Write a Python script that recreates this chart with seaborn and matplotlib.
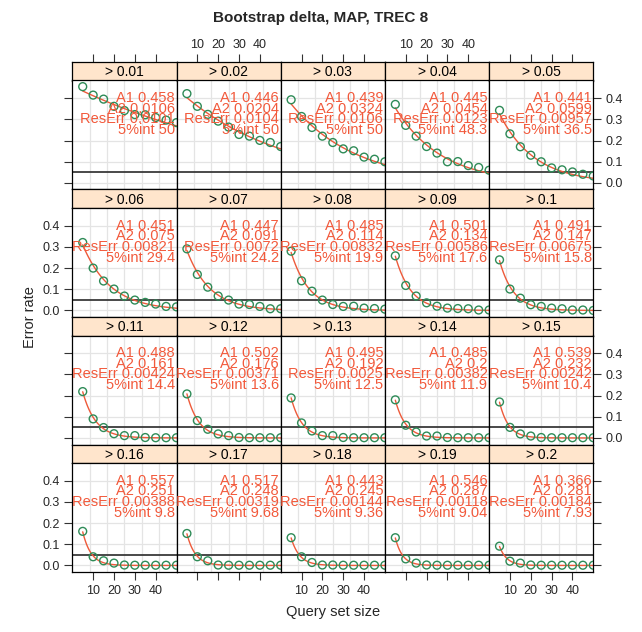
import numpy as np
import pandas as pd
import matplotlib
matplotlib.use("Agg")
import matplotlib.pyplot as plt
import seaborn as sns

sns.set_theme(style="white")
plt.rcParams['font.family'] = ['Liberation Sans', 'DejaVu Sans']

# ---------------- data ----------------
query_sizes = [5, 10, 15, 20, 25, 30, 35, 40, 45, 50]
thresholds = ["0.01", "0.02", "0.03", "0.04", "0.05",
              "0.06", "0.07", "0.08", "0.09", "0.1",
              "0.11", "0.12", "0.13", "0.14", "0.15",
              "0.16", "0.17", "0.18", "0.19", "0.2"]
a1_text = ["0.458", "0.446", "0.439", "0.445", "0.441",
           "0.451", "0.447", "0.485", "0.501", "0.491",
           "0.488", "0.502", "0.495", "0.485", "0.539",
           "0.557", "0.517", "0.443", "0.546", "0.366"]
a2_text = ["0.0106", "0.0204", "0.0324", "0.0454", "0.0599",
           "0.075", "0.091", "0.114", "0.134", "0.147",
           "0.161", "0.176", "0.192", "0.2", "0.232",
           "0.251", "0.248", "0.245", "0.287", "0.281"]
reserr_text = ["0.0101", "0.0104", "0.0106", "0.0123", "0.00957",
               "0.00821", "0.0072", "0.00832", "0.00586", "0.00675",
               "0.00424", "0.00371", "0.0025", "0.00382", "0.00242",
               "0.00388", "0.00319", "0.00144", "0.00118", "0.00184"]
int5_text = ["50", "50", "50", "48.3", "36.5",
             "29.4", "24.2", "19.9", "17.6", "15.8",
             "14.4", "13.6", "12.5", "11.9", "10.4",
             "9.8", "9.68", "9.36", "9.04", "7.93"]

err_001 = [0.455, 0.415, 0.396, 0.362, 0.342, 0.323, 0.322, 0.309, 0.297, 0.285]
err_002 = [0.422, 0.362, 0.324, 0.292, 0.264, 0.229, 0.221, 0.201, 0.191, 0.172]
err_003 = [0.393, 0.314, 0.262, 0.221, 0.191, 0.161, 0.152, 0.122, 0.112, 0.100]
err_004 = [0.371, 0.272, 0.221, 0.172, 0.141, 0.100, 0.101, 0.082, 0.073, 0.060]
err_005 = [0.343, 0.232, 0.171, 0.131, 0.100, 0.071, 0.062, 0.052, 0.041, 0.033]
err_006 = [0.321, 0.200, 0.139, 0.101, 0.068, 0.049, 0.038, 0.030, 0.019, 0.017]
err_007 = [0.291, 0.170, 0.110, 0.068, 0.049, 0.030, 0.028, 0.019, 0.008, 0.008]
err_008 = [0.280, 0.140, 0.091, 0.049, 0.028, 0.019, 0.020, 0.011, 0.009, 0.006]
err_009 = [0.258, 0.118, 0.068, 0.036, 0.020, 0.011, 0.009, 0.008, 0.002, 0.002]
err_010 = [0.239, 0.101, 0.058, 0.027, 0.019, 0.011, 0.008, 0.002, 0.002, 0.000]
err_011 = [0.219, 0.090, 0.049, 0.020, 0.011, 0.011, 0.002, 0.001, 0.001, 0.001]
err_012 = [0.208, 0.082, 0.041, 0.019, 0.011, 0.002, 0.001, 0.001, 0.001, 0.001]
err_013 = [0.189, 0.071, 0.033, 0.011, 0.011, 0.002, 0.001, 0.001, 0.001, 0.001]
err_014 = [0.180, 0.060, 0.028, 0.009, 0.009, 0.002, 0.001, 0.001, 0.001, 0.001]
err_015 = [0.170, 0.050, 0.019, 0.009, 0.002, 0.001, 0.001, 0.001, 0.001, 0.001]
err_016 = [0.161, 0.041, 0.022, 0.011, 0.002, 0.001, 0.001, 0.001, 0.001, 0.001]
err_017 = [0.151, 0.041, 0.022, 0.002, 0.001, 0.001, 0.001, 0.001, 0.001, 0.001]
err_018 = [0.131, 0.041, 0.014, 0.002, 0.002, 0.001, 0.001, 0.001, 0.001, 0.001]
err_019 = [0.131, 0.031, 0.011, 0.002, 0.001, 0.001, 0.001, 0.001, 0.001, 0.001]
err_020 = [0.091, 0.020, 0.011, 0.002, 0.001, 0.001, 0.001, 0.001, 0.001, 0.001]

error_rates = [err_001, err_002, err_003, err_004, err_005,
               err_006, err_007, err_008, err_009, err_010,
               err_011, err_012, err_013, err_014, err_015,
               err_016, err_017, err_018, err_019, err_020]

x_ticks = [10, 20, 30, 40]
y_ticks = [0.0, 0.1, 0.2, 0.3, 0.4]
y_tick_labels = ["0.0", "0.1", "0.2", "0.3", "0.4"]
cutoff = 0.05

# ---------------- style ----------------
W, H = 642, 632
fig = plt.figure(figsize=(W / 100, H / 100), dpi=100)

GREEN = "#2E8B57"
RED = "#EE5A3A"
TXT_RED = "#F2593B"
STRIP = "#FFE5CC"
GRID = "#E4E4E4"
TICKC = "#333333"

left, colw = 72.3, 104.2
top, rowh, striph = 62.0, 127.5, 18.5
xlim = (0, 50)
ylim = (-0.031, 0.484)


def fig_rect(x, y, w, h):
    return [x / W, 1 - (y + h) / H, w / W, h / H]


for i in range(20):
    r, c = divmod(i, 5)
    x0 = left + c * colw
    y0 = top + r * rowh
    sax = fig.add_axes(fig_rect(x0, y0, colw, striph))
    pax = fig.add_axes(fig_rect(x0, y0 + striph, colw, rowh - striph))

    # strip
    sax.set_facecolor(STRIP)
    sax.set_xlim(*xlim)
    sax.set_ylim(0, 1)
    sax.set_yticks([])
    sax.text(0.5, 0.45, "> " + thresholds[i], transform=sax.transAxes,
             ha="center", va="center", fontsize=10, color="black")
    for sp in sax.spines.values():
        sp.set_color("black")
        sp.set_linewidth(0.9)
    if r == 0:
        sax.xaxis.set_ticks_position("top")
        sax.set_xticks(x_ticks)
        if c in (1, 3):
            sax.set_xticklabels([str(t) for t in x_ticks])
        else:
            sax.set_xticklabels([])
        sax.tick_params(axis="x", direction="out", length=6, width=0.8,
                        color=TICKC, labelsize=9, pad=2, top=True, bottom=False)
    else:
        sax.set_xticks([])

    # panel
    pax.set_facecolor("white")
    pax.set_xlim(*xlim)
    pax.set_ylim(*ylim)
    for gx in np.linspace(xlim[0], xlim[1], 7)[1:-1]:
        pax.axvline(gx, color=GRID, lw=0.9, zorder=0)
    for gy in y_ticks:
        pax.axhline(gy, color=GRID, lw=0.9, zorder=0)
    pax.axhline(cutoff, color="#3a3a3a", lw=1.3, zorder=1)

    a1 = float(a1_text[i])
    a2 = float(a2_text[i])
    xs = np.linspace(query_sizes[0], xlim[1], 120)
    fit_df = pd.DataFrame({"x": xs, "y": a1 * np.exp(-a2 * xs)})
    sns.lineplot(data=fit_df, x="x", y="y", ax=pax, color=RED, lw=1.0,
                 zorder=2)
    pts = pd.DataFrame({"x": query_sizes, "y": error_rates[i]})
    sns.scatterplot(data=pts, x="x", y="y", ax=pax, s=32,
                    facecolors="none", edgecolors=GREEN, linewidths=1.0,
                    zorder=3)
    pax.set_xlabel("")
    pax.set_ylabel("")

    lines = ["A1 " + a1_text[i], "A2 " + a2_text[i],
             "ResErr " + reserr_text[i], "5%int " + int5_text[i]]
    for k, s in enumerate(lines):
        t = pax.text(49.2, 0.40 - 0.05 * k, s, ha="right", va="center",
                     fontsize=10.5, color=TXT_RED, zorder=4)
        t.set_clip_on(True)

    for sp in pax.spines.values():
        sp.set_color("black")
        sp.set_linewidth(0.9)

    # x ticks
    if r == 3:
        pax.set_xticks(x_ticks)
        if c in (0, 2, 4):
            pax.set_xticklabels([str(t) for t in x_ticks])
        else:
            pax.set_xticklabels([])
        pax.tick_params(axis="x", direction="out", length=6, width=0.8,
                        color=TICKC, labelsize=9, pad=3, bottom=True)
    else:
        pax.set_xticks([])

    # y ticks
    if c == 0 or c == 4:
        pax.set_yticks(y_ticks)
        if c == 0:
            pax.yaxis.set_ticks_position("left")
            pax.set_yticklabels(y_tick_labels if r in (1, 3) else [])
        else:
            pax.yaxis.set_ticks_position("right")
            pax.set_yticklabels(y_tick_labels if r in (0, 2) else [])
        pax.tick_params(axis="y", direction="out", length=6, width=0.8,
                        color=TICKC, labelsize=9, pad=3)
    else:
        pax.set_yticks([])

fig.text(0.5, 1 - 18 / H, "Bootstrap delta, MAP, TREC 8", ha="center",
         va="center", fontsize=11, fontweight="bold")
fig.text((left + 2.5 * colw) / W, 1 - 612 / H, "Query set size",
         ha="center", va="center", fontsize=10.5)
fig.text(30 / W, 1 - (top + 2 * rowh) / H, "Error rate", ha="center",
         va="center", rotation=90, fontsize=10.5)

fig.savefig("out.png", dpi=100)
